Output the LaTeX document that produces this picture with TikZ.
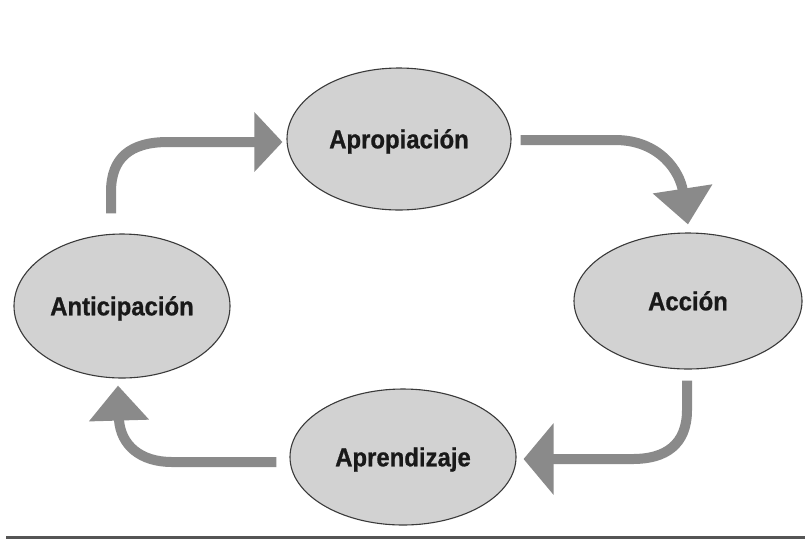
\documentclass[tikz,border=0pt]{standalone}
\usepackage{fontspec}
\newfontfamily\lblfont{Liberation Sans}[FakeStretch=0.92,FakeBold=0.8]
\usetikzlibrary{shapes.geometric,arrows.meta}
\definecolor{stagefill}{HTML}{D2D2D2}
\definecolor{stageline}{HTML}{3A3A3A}
\definecolor{flowgray}{HTML}{8A8A8A}
\definecolor{rulegray}{HTML}{555555}
\tikzset{
  stage/.style={ellipse, draw=stageline, line width=1.1pt, fill=stagefill,
    inner sep=0pt, text height=18.6pt, text depth=0pt,
    font=\lblfont\bfseries\fontsize{26}{30}\selectfont, text=black!90},
  flow/.style={draw=flowgray, line width=10pt},
  headA/.style={-{Triangle[length=28pt,width=58pt]}, flowgray},
  headB/.style={-{Triangle[length=36pt,width=58pt]}, flowgray},
  headC/.style={-{Triangle[length=30pt,width=70pt]}, flowgray},
  headD/.style={-{Triangle[length=35pt,width=58pt]}, flowgray}
}
\begin{document}
\begin{tikzpicture}[x=1pt,y=-1pt]
  \useasboundingbox[fill=white] (0,0) rectangle (805,539);

  % the four stages of the cycle
  \node[stage, minimum width=224pt, minimum height=142pt] (apro) at (399,139) {Apropiación};
  \node[stage, minimum width=228pt, minimum height=136pt] (acc)  at (688,301) {Acción};
  \node[stage, minimum width=216pt, minimum height=144pt] (anti) at (122,306) {Anticipación};
  \node[stage, minimum width=226pt, minimum height=136pt] (apre) at (403,457) {Aprendizaje};

  % curved connectors running clockwise
  \draw[flow, headA] ([xshift=-11pt,yshift=20pt]anti.north) -- (111,192)
    .. controls (111,158) and (130,142) .. (168,142)
    -- ([xshift=-4pt,yshift=-3pt]apro.west);
  \draw[flow, headB] ([xshift=9pt,yshift=-1pt]apro.east) -- (615,140)
    .. controls (660,140) and (680,172) .. ([yshift=8pt]acc.north);
  \draw[flow, headC] ([xshift=-1pt,yshift=-11pt]acc.south) -- (687,410)
    .. controls (687,445) and (665,459) .. (633,459)
    -- ([xshift=7pt,yshift=-2pt]apre.east);
  \draw[flow, headD] ([xshift=-13pt,yshift=-5pt]apre.west) -- (172,462)
    .. controls (140,462) and (121,445) .. (119,420)
    -- ([xshift=-4pt,yshift=-7pt]anti.south);

  % rule along the bottom edge
  \draw[rulegray, line width=3pt] (6,537.5) -- (805,537.5);
\end{tikzpicture}
\end{document}
